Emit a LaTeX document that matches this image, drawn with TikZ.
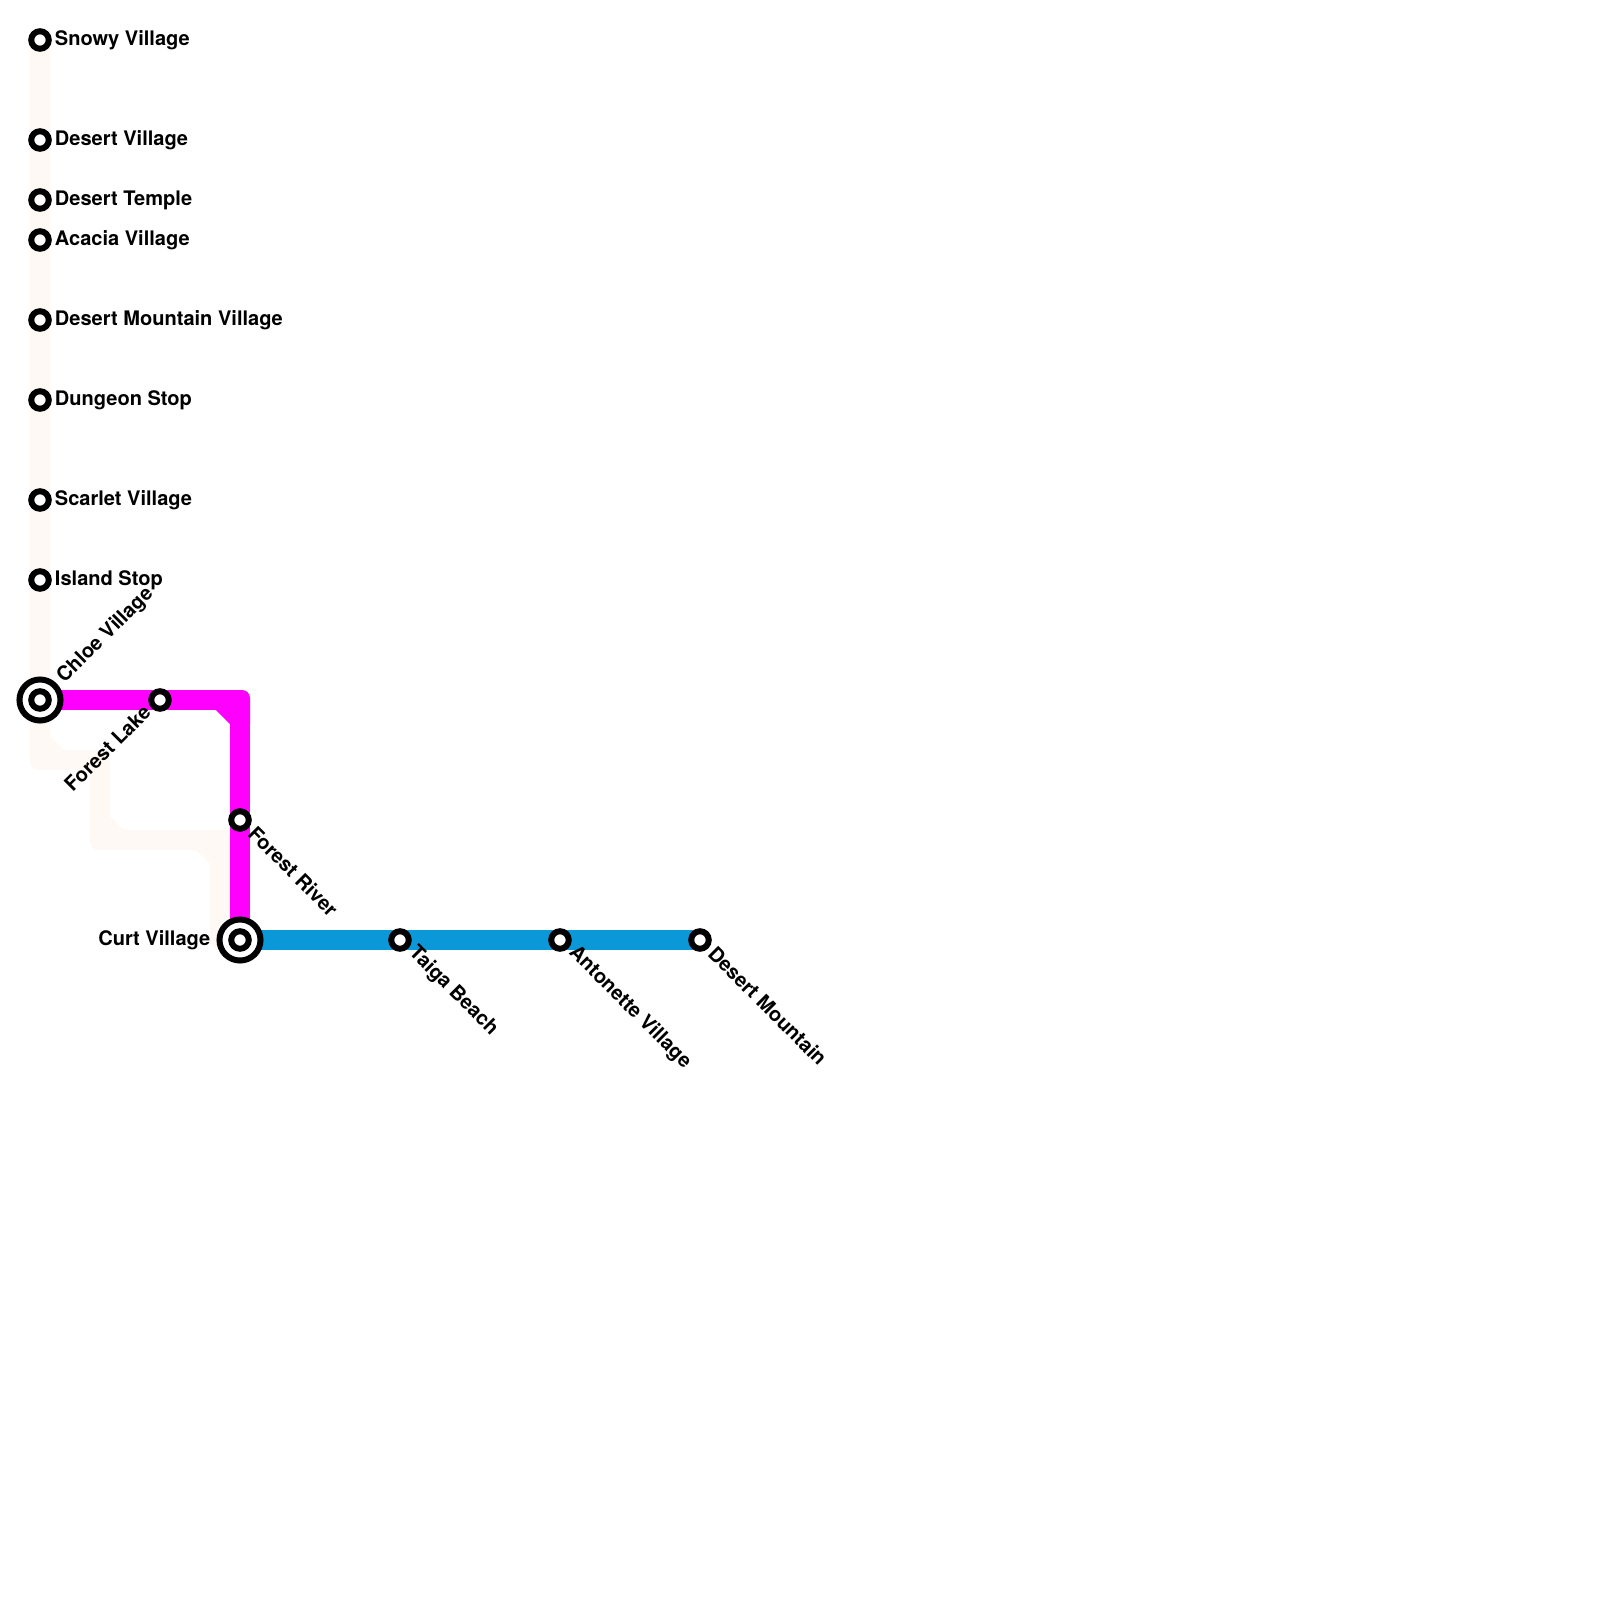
\documentclass[tikz,border=0pt]{standalone}
\usepackage{xcolor}
\usepackage{fontspec}
\setmainfont{TeX Gyre Heros}
\usetikzlibrary{positioning, backgrounds, calc}
\definecolor{paleline}{HTML}{FFF9F5}
\definecolor{magentaline}{HTML}{FF00FF}
\definecolor{blueline}{HTML}{0B98D8}
\tikzset{
  x=0.01cm, y=-0.01cm,
  route/.style={line width=0.2cm, line join=round},
  station/.style={
    circle, draw=black, fill=white, line width=0.06cm,
    minimum size=0.175cm, inner sep=0pt,
  },
  interchange/.style={
    circle, draw=black, fill=white, line width=0.06cm,
    minimum size=0.41cm, inner sep=0pt,
  },
  stationlabel/.style={
    font=\fontsize{5.7pt}{7pt}\selectfont\bfseries, inner sep=0pt, text=black,
  },
  elbow/.pic={
    \fill (-10,-24) -- (10,-24) -- (24,-10) -- (24,10)
      [rounded corners=0.08cm] -- (-10,10) [sharp corners] -- cycle;
  },
}
\begin{document}
\begin{tikzpicture}

  \useasboundingbox (0,0) rectangle (1600,1600);

  % stations
  \node[station] (snowy) at (40,40) {};
  \node[station] (desertv) at (40,140) {};
  \node[station] (temple) at (40,200) {};
  \node[station] (acacia) at (40,240) {};
  \node[station] (mountainv) at (40,320) {};
  \node[station] (dungeon) at (40,400) {};
  \node[station] (scarlet) at (40,500) {};
  \node[station] (island) at (40,580) {};
  \node[interchange] (chloering) at (40,700) {};
  \node[station] (chloe) at (40,700) {};
  \node[station] (lake) at (160,700) {};
  \node[station] (river) at (240,820) {};
  \node[interchange] (curtring) at (240,940) {};
  \node[station] (curt) at (240,940) {};
  \node[station] (taiga) at (400,940) {};
  \node[station] (antonette) at (560,940) {};
  \node[station] (mountain) at (700,940) {};

  % bends
  \coordinate (b1) at (40,760);
  \coordinate (b2) at (100,760);
  \coordinate (b3) at (100,840);
  \coordinate (b4) at (220,840);
  \coordinate (b5) at (220,940);
  \coordinate (b6) at (240,700);

  \begin{scope}[on background layer]
    \draw[route, paleline] (snowy.center) -- (chloe.center) -- (b1) -- (b2) -- (b3) -- (b4) -- (b5) -- (curt.center);
    \pic[fill=paleline] at (b1) {elbow};
    \pic[fill=paleline] at (b3) {elbow};
    \pic[fill=paleline, xscale=-1, yscale=-1] at (b4) {elbow};
    \draw[route, magentaline] (chloe.center) -- (lake.center) -- (b6) -- (river.center) -- (curt.center);
    \pic[fill=magentaline, xscale=-1, yscale=-1] at (b6) {elbow};
    \draw[route, blueline] (curt.center) -- (taiga.center) -- (antonette.center) -- (mountain.center);
  \end{scope}

  % labels
  \node[stationlabel, right=0.025cm of snowy] (snowylabel) {Snowy Village};
  \node[stationlabel, right=0.025cm of desertv] (desertvlabel) {Desert Village};
  \node[stationlabel, right=0.025cm of temple] (templelabel) {Desert Temple};
  \node[stationlabel, right=0.025cm of acacia] (acacialabel) {Acacia Village};
  \node[stationlabel, right=0.025cm of mountainv] (mountainvlabel) {Desert Mountain Village};
  \node[stationlabel, right=0.025cm of dungeon] (dungeonlabel) {Dungeon Stop};
  \node[stationlabel, right=0.025cm of scarlet] (scarletlabel) {Scarlet Village};
  \node[stationlabel, right=0.025cm of island] (islandlabel) {Island Stop};
  \node[stationlabel, rotate=45, anchor=west] (chloelabel) at ($(chloe)+(20.5,-19.5)$) {Chloe Village};
  \node[stationlabel, rotate=45, anchor=east] (lakelabel) at ($(lake)+(-12.5,8)$) {Forest Lake};
  \node[stationlabel, rotate=-45, anchor=west] (riverlabel) at ($(river)+(11.5,9.5)$) {Forest River};
  \node[stationlabel, left=0.055cm of curtring] (curtlabel) {Curt Village};
  \node[stationlabel, rotate=-45, anchor=west] (taigalabel) at ($(taiga)+(11.5,9.5)$) {Taiga Beach};
  \node[stationlabel, rotate=-45, anchor=west] (antonettelabel) at ($(antonette)+(11.5,9.5)$) {Antonette Village};
  \node[stationlabel, rotate=-45, anchor=west] (mountainlabel) at ($(mountain)+(11.5,9.5)$) {Desert Mountain};

\end{tikzpicture}
\end{document}
